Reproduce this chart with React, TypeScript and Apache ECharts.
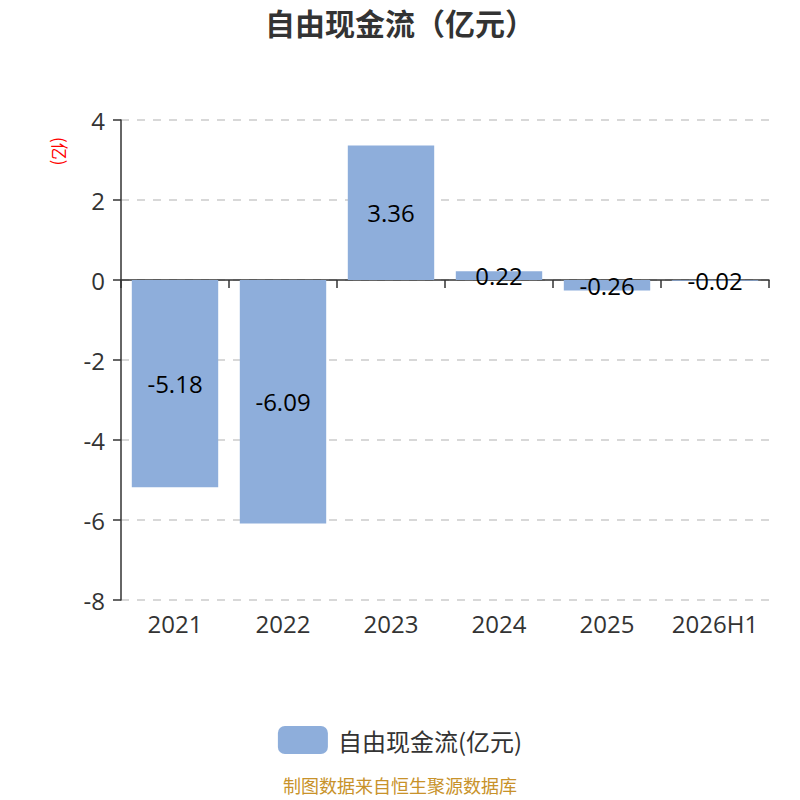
import React, { useEffect, useRef } from "react";
import * as echarts from "echarts";

const categories = ["2021", "2022", "2023", "2024", "2025", "2026H1"];
const values = [-5.18, -6.09, 3.36, 0.22, -0.26, -0.02];
const seriesName = "自由现金流(亿元)";
const titleText = "自由现金流（亿元）";
const unitText = "(亿)";
const sourceText = "制图数据来自恒生聚源数据库";

export default function App() {
  const ref = useRef<HTMLDivElement>(null);
  useEffect(() => {
    document.body.style.margin = "0";
    const chart = echarts.init(ref.current!, null, { renderer: "svg" });
    const font = "'Open Sans', 'Noto Sans CJK SC', sans-serif";
    const cjk = "'Noto Sans CJK SC', 'Open Sans', sans-serif";
    chart.setOption({
      animation: false,
      textStyle: { fontFamily: font },
      title: [
        {
          text: titleText,
          left: "center",
          top: 2,
          textStyle: { fontSize: 30, fontWeight: "bold", color: "#333", fontFamily: cjk },
        },
        {
          text: sourceText,
          left: "center",
          top: 771,
          textStyle: { fontSize: 18, fontWeight: "normal", color: "#c8922a", fontFamily: cjk },
        },
      ],
      legend: {
        top: 721,
        left: "center",
        itemWidth: 50,
        itemHeight: 28,
        itemGap: 10,
        textStyle: { fontSize: 24, color: "#333", fontFamily: cjk, padding: [0, 0, 0, 5] },
        data: [{ name: seriesName, icon: "roundRect" }],
      },
      graphic: [
        {
          type: "text",
          x: 69,
          y: 137,
          rotation: -Math.PI / 2,
          style: { text: unitText, fill: "#ff0000", font: `17px ${cjk}` },
        },
      ],
      grid: { left: 121, right: 31, top: 120, bottom: 200 },
      xAxis: {
        type: "category",
        data: categories,
        axisLine: { lineStyle: { color: "#333", width: 1.5 } },
        axisTick: { show: true, interval: 0, length: 8, lineStyle: { color: "#333", width: 1.5 } },
        axisLabel: { interval: 0, fontSize: 24, color: "#333", margin: 11, fontFamily: font },
      },
      yAxis: {
        type: "value",
        min: -8,
        max: 4,
        interval: 2,
        axisLine: { show: true, lineStyle: { color: "#333", width: 1.5 } },
        axisTick: { show: true, length: 8, lineStyle: { color: "#333", width: 1.5 } },
        axisLabel: { fontSize: 24, color: "#333", margin: 16, fontFamily: font },
        splitLine: { lineStyle: { type: [8, 8], color: "#ccc", width: 1.5 } },
      },
      series: [
        {
          name: seriesName,
          type: "bar",
          data: values,
          barWidth: "80%",
          itemStyle: { color: "#8eaedb" },
          label: {
            show: true,
            position: "inside",
            fontSize: 24,
            color: "#000",
            fontFamily: font,
            formatter: (p: any) => p.value.toFixed(2),
          },
        },
      ],
    });
    return () => chart.dispose();
  }, []);
  return <div ref={ref} style={{ width: 800, height: 800 }} />;
}
